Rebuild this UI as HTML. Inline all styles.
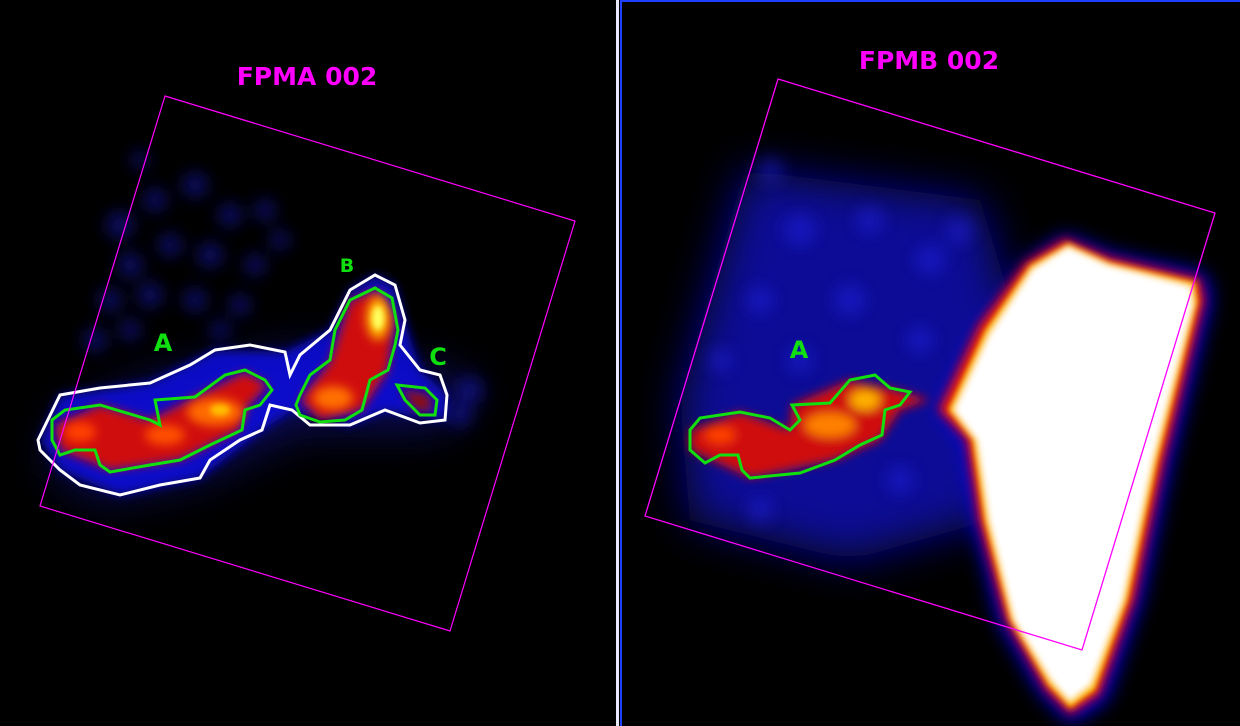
<!DOCTYPE html>
<html><head><meta charset="utf-8"><style>
html,body{margin:0;padding:0;background:#000;width:1240px;height:726px;overflow:hidden}
svg{display:block}
text{font-family:"DejaVu Sans","Liberation Sans",sans-serif;font-weight:bold}
</style></head><body>
<svg width="1240" height="726" viewBox="0 0 1240 726">
<defs>
<filter id="b30" x="-50%" y="-50%" width="200%" height="200%"><feGaussianBlur stdDeviation="22"/></filter>
<filter id="b12" x="-50%" y="-50%" width="200%" height="200%"><feGaussianBlur stdDeviation="10"/></filter>
<filter id="b8" x="-50%" y="-50%" width="200%" height="200%"><feGaussianBlur stdDeviation="8"/></filter>
<filter id="b6" x="-50%" y="-50%" width="200%" height="200%"><feGaussianBlur stdDeviation="5"/></filter>
<filter id="b3" x="-50%" y="-50%" width="200%" height="200%"><feGaussianBlur stdDeviation="3"/></filter>
</defs>
<rect width="1240" height="726" fill="#000"/>

<!-- LEFT PANEL -->
<g>
<g filter="url(#b8)" fill="#1818b0" opacity="0.55">
<circle cx="120" cy="225" r="14"/><circle cx="155" cy="200" r="12"/><circle cx="195" cy="185" r="13"/>
<circle cx="230" cy="215" r="12"/><circle cx="265" cy="210" r="11"/><circle cx="130" cy="265" r="13"/>
<circle cx="170" cy="245" r="12"/><circle cx="210" cy="255" r="13"/><circle cx="255" cy="265" r="11"/>
<circle cx="110" cy="300" r="12"/><circle cx="150" cy="295" r="13"/><circle cx="195" cy="300" r="12"/>
<circle cx="240" cy="305" r="11"/><circle cx="95" cy="340" r="12"/><circle cx="130" cy="330" r="11"/>
<circle cx="280" cy="240" r="10"/><circle cx="220" cy="330" r="10"/><circle cx="140" cy="160" r="9"/>
<circle cx="470" cy="390" r="14"/><circle cx="460" cy="415" r="12"/>
</g>
<g filter="url(#b30)" opacity="0.35"><path d="M60,420 L150,380 L300,350 L440,370 L480,390 L440,430 L300,430 L200,480 L100,500 L50,470 Z" fill="#2020ff"/></g>
<g filter="url(#b6)" opacity="0.85">
<path d="M40,440 L60,395 L150,383 L215,350 L285,352 L330,330 L350,290 L375,275 L395,285 L405,320 L420,370 L447,395 L445,420 L385,410 L350,425 L292,410 L262,430 L200,478 L120,495 L60,470 Z" fill="#1010e0"/>
</g>
<g filter="url(#b6)">
<path d="M55,425 L100,405 L150,420 L195,397 L245,372 L268,385 L245,410 L240,430 L180,460 L110,470 L60,450 Z" fill="#d01010"/>
<path d="M300,400 L330,362 L350,300 L378,290 L395,320 L388,370 L362,410 L320,420 Z" fill="#d01010"/>
<path d="M400,388 L430,395 L432,412 L415,410 Z" fill="#900808"/>
</g>
<g filter="url(#b6)">
<ellipse cx="215" cy="412" rx="28" ry="14" fill="#ff6a00"/>
<ellipse cx="165" cy="435" rx="20" ry="10" fill="#ff5000"/>
<ellipse cx="378" cy="318" rx="12" ry="22" fill="#ffaa00"/>
<ellipse cx="333" cy="398" rx="20" ry="12" fill="#ff7000"/>
<ellipse cx="80" cy="432" rx="16" ry="10" fill="#ff4000"/>
</g>
<g filter="url(#b3)"><ellipse cx="378" cy="318" rx="6" ry="12" fill="#ffff60"/><ellipse cx="220" cy="410" rx="10" ry="6" fill="#ffc000"/></g>
<path d="M38,440 L60,395 L100,388 L150,383 L190,365 L215,350 L250,345 L285,352 L290,375 L300,355 L330,330 L350,290 L375,275 L395,285 L405,320 L400,345 L420,370 L440,375 L447,395 L445,420 L420,423 L385,410 L350,425 L310,425 L292,410 L270,405 L262,430 L240,440 L210,460 L200,478 L160,485 L120,495 L80,485 L60,470 L40,450 Z" fill="none" stroke="#fff" stroke-width="3"/>
<g fill="none" stroke="#10e010" stroke-width="3">
<path d="M52,420 L65,410 L100,405 L150,420 L160,425 L155,400 L195,397 L225,375 L245,370 L265,380 L272,390 L260,405 L245,410 L242,430 L210,445 L180,460 L150,465 L110,472 L100,465 L95,450 L75,450 L60,455 L52,440 Z"/>
<path d="M300,395 L310,375 L330,360 L335,330 L350,300 L375,288 L392,298 L398,330 L395,345 L388,370 L370,380 L362,410 L345,420 L320,422 L300,415 L296,405 Z"/>
<path d="M397,385 L425,388 L437,400 L435,415 L420,415 L405,400 Z"/>
</g>
<polygon points="165,96 575,221 450,631 40,506" fill="none" stroke="#ff00ff" stroke-width="1.2"/>
<text x="307" y="85" font-size="25" fill="#ff00ff" text-anchor="middle">FPMA 002</text>
<text x="163" y="351" font-size="24" fill="#10e010" text-anchor="middle">A</text>
<text x="347" y="272" font-size="19" fill="#10e010" text-anchor="middle">B</text>
<text x="438" y="365" font-size="24" fill="#10e010" text-anchor="middle">C</text>
</g>

<!-- DIVIDER -->
<rect x="616" y="0" width="3" height="726" fill="#e8e8ff"/>
<rect x="620" y="0" width="2" height="726" fill="#2040ff"/>
<rect x="620" y="0" width="620" height="2" fill="#2040ff"/>

<!-- RIGHT PANEL -->
<g>
<g filter="url(#b30)">
<path d="M745,170 L980,200 L1010,300 L990,520 L850,560 L690,520 L680,400 Z" fill="#1515c8" opacity="0.75"/>
</g>
<g filter="url(#b8)" fill="#2a2aff" opacity="0.35">
<circle cx="770" cy="170" r="14"/><circle cx="800" cy="230" r="16"/><circle cx="870" cy="220" r="14"/>
<circle cx="930" cy="260" r="15"/><circle cx="760" cy="300" r="14"/><circle cx="850" cy="300" r="16"/>
<circle cx="920" cy="340" r="14"/><circle cx="720" cy="360" r="12"/><circle cx="800" cy="360" r="13"/>
<circle cx="960" cy="230" r="14"/><circle cx="900" cy="480" r="14"/><circle cx="760" cy="510" r="13"/>
</g>
<g filter="url(#b12)">
<path d="M940,410 L985,320 L1030,260 L1065,236 L1110,255 L1205,275 L1210,300 L1170,460 L1140,600 L1105,700 L1070,722 L1040,690 L1000,620 L975,520 L965,440 Z" fill="#0000ff"/>
</g>
<g filter="url(#b6)">
<path d="M938,410 L978,325 L1025,262 L1065,238 L1110,257 L1200,278 L1205,300 L1165,460 L1135,600 L1100,695 L1070,715 L1045,690 L1005,620 L978,520 L966,440 Z" fill="#e01010"/>
</g>
<g filter="url(#b3)">
<path d="M948,410 L985,330 L1030,265 L1068,243 L1110,262 L1195,282 L1198,302 L1158,460 L1128,600 L1095,690 L1070,708 L1048,685 L1010,620 L984,520 L972,440 Z" fill="#ffd000"/>
<path d="M955,410 L990,335 L1033,270 L1068,248 L1108,266 L1190,287 L1192,305 L1152,460 L1122,600 L1090,684 L1070,700 L1052,680 L1015,620 L990,520 L978,440 Z" fill="#fff"/>
</g>
<g filter="url(#b6)">
<path d="M690,430 L740,412 L790,430 L792,405 L850,380 L890,388 L930,400 L900,410 L880,440 L835,460 L750,478 L690,450 Z" fill="#d01010"/>
<ellipse cx="830" cy="425" rx="25" ry="12" fill="#ff8000"/>
<ellipse cx="865" cy="400" rx="15" ry="10" fill="#ffb000"/>
<ellipse cx="720" cy="435" rx="15" ry="8" fill="#ff4000"/>
</g>
<path d="M690,430 L700,418 L740,412 L770,418 L790,430 L800,420 L792,405 L830,403 L850,380 L875,375 L890,388 L910,392 L900,405 L885,410 L882,435 L860,445 L835,460 L800,473 L750,478 L742,470 L738,455 L720,455 L705,463 L690,450 Z" fill="none" stroke="#10e010" stroke-width="3"/>
<polygon points="778,79 1215,213 1082,650 645,516" fill="none" stroke="#ff00ff" stroke-width="1.3"/>
<text x="929" y="69" font-size="25" fill="#ff00ff" text-anchor="middle">FPMB 002</text>
<text x="799" y="358" font-size="24" fill="#10e010" text-anchor="middle">A</text>
</g>
</svg>
</body></html>
